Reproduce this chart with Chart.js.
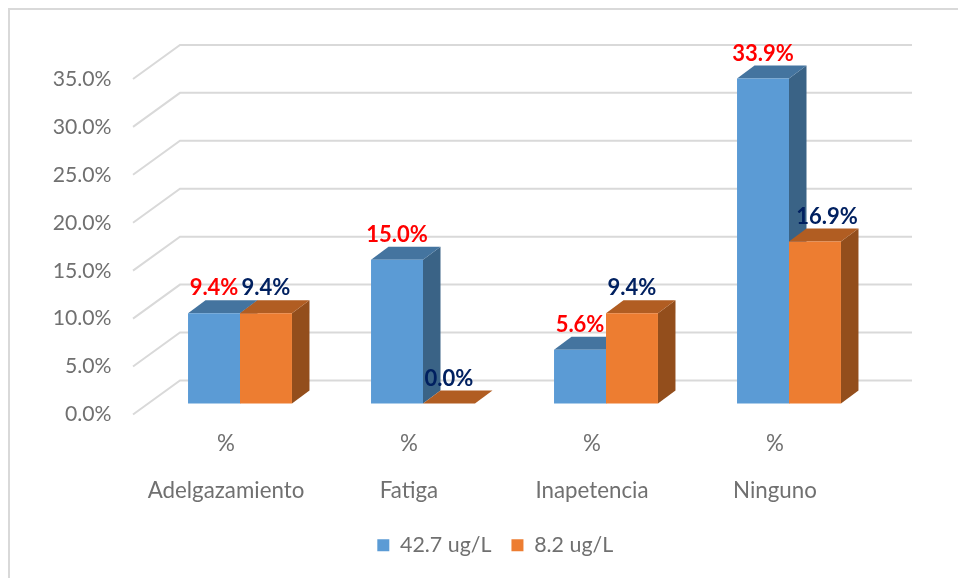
<!DOCTYPE html>
<html>
<head>
<meta charset="utf-8">
<style>
  html, body { margin: 0; padding: 0; background: #fff; }
  canvas { display: block; }
</style>
<script src="https://cdn.jsdelivr.net/npm/chart.js@4"></script>
</head>
<body>
<canvas id="chart" width="958" height="578"></canvas>
<script>
// Chart data
const categories = ['Adelgazamiento', 'Fatiga', 'Inapetencia', 'Ninguno'];
const categoryUnit = '%';
const seriesNames = ['42.7 ug/L', '8.2 ug/L'];
const highValues = [9.4, 15.0, 5.6, 33.9];
const lowValues = [9.4, 0.0, 9.4, 16.9];
const yTicks = [0, 5, 10, 15, 20, 25, 30, 35];

const FONT = 'Lato, sans-serif';
const TEXT_GREY = '#707070';
const GRID_GREY = '#d9d9d9';

// Colours for each series: front, top and side face
const faces = [
  { front: '#5b9bd5', top: '#44749f', side: '#3a6386', label: '#ff0000' },
  { front: '#ed7d31', top: '#b15d22', side: '#934e1c', label: '#002060' }
];

// Depth of the bars and of the floor/back wall
const BAR_DX = 17.5, BAR_DY = 13;
const WALL_DX = 47, WALL_DY = 34;

// Frame and 3D gridlines, drawn under the bars
const wallPlugin = {
  id: 'wall',
  afterLayout(chart) {
    // legend sits off the padded area's centre in the original
    chart.legend.left += 55;
    chart.legend.right += 55;
    chart.legend.top += 2;
    chart.legend.bottom += 2;
  },
  beforeDraw(chart) {
    const { ctx, chartArea, scales } = chart;
    ctx.save();
    ctx.strokeStyle = GRID_GREY;
    ctx.lineWidth = 2;
    ctx.beginPath();
    ctx.moveTo(9, 578);
    ctx.lineTo(9, 9);
    ctx.lineTo(958, 9);
    ctx.stroke();
    yTicks.forEach(v => {
      const y = scales.y.getPixelForValue(v);
      const x = chartArea.left - 15.5;
      ctx.beginPath();
      ctx.moveTo(x, y);
      ctx.lineTo(x + WALL_DX, y - WALL_DY);
      ctx.lineTo(chartArea.right + 31.5, y - WALL_DY);
      ctx.stroke();
    });
    ctx.restore();
  }
};

// Top and side faces, drawn before the library paints the front rectangles
const depthPlugin = {
  id: 'depth',
  beforeDatasetsDraw(chart) {
    const { ctx } = chart;
    const poly = (color, pts) => {
      ctx.fillStyle = color;
      ctx.beginPath();
      pts.forEach((p, i) => i ? ctx.lineTo(p[0], p[1]) : ctx.moveTo(p[0], p[1]));
      ctx.closePath();
      ctx.fill();
    };
    chart.data.datasets.forEach((ds, d) => {
      chart.getDatasetMeta(d).data.forEach(bar => {
        const l = bar.x - bar.width / 2, r = bar.x + bar.width / 2;
        poly(faces[d].side, [[r, bar.y], [r + BAR_DX, bar.y - BAR_DY], [r + BAR_DX, bar.base - BAR_DY], [r, bar.base]]);
        poly(faces[d].top, [[l, bar.y], [l + BAR_DX, bar.y - BAR_DY], [r + BAR_DX, bar.y - BAR_DY], [r, bar.y]]);
      });
    });
  }
};

// Value labels above the bars
const valueLabelPlugin = {
  id: 'valueLabels',
  afterDatasetsDraw(chart) {
    const { ctx } = chart;
    ctx.save();
    ctx.font = 'bold 22px ' + FONT;
    ctx.textAlign = 'center';
    ctx.textBaseline = 'middle';
    chart.data.datasets.forEach((ds, d) => {
      ctx.fillStyle = faces[d].label;
      chart.getDatasetMeta(d).data.forEach((bar, i) => {
        // the 16.9% label sits a little to the right in the original
        const shift = d === 1 && i === 3 ? 12 : 0;
        ctx.fillText(ds.data[i].toFixed(1) + '%', bar.x + shift, bar.y - 25);
      });
    });
    ctx.restore();
  }
};

new Chart(document.getElementById('chart'), {
  type: 'bar',
  data: {
    labels: categories.map(c => [categoryUnit, c]),
    datasets: [
      { label: seriesNames[0], data: highValues, backgroundColor: faces[0].front, yAxisID: 'yBars', categoryPercentage: 0.568, barPercentage: 1 },
      { label: seriesNames[1], data: lowValues, backgroundColor: faces[1].front, yAxisID: 'yBars', categoryPercentage: 0.568, barPercentage: 1 }
    ]
  },
  options: {
    responsive: false,
    animation: false,
    layout: { padding: { top: 31, right: 77.5, bottom: 14, left: 0 } },
    plugins: {
      tooltip: { enabled: false },
      legend: {
        position: 'bottom',
        labels: {
          boxWidth: 12,
          boxHeight: 12,
          padding: 20,
          color: TEXT_GREY,
          font: { family: FONT, size: 21.4 }
        }
      }
    },
    scales: {
      x: {
        grid: { display: false },
        border: { display: false },
        ticks: {
          maxRotation: 0,
          autoSkip: false,
          padding: -2,
          labelOffset: -14,
          color: TEXT_GREY,
          font: { family: FONT, size: 22.3, lineHeight: 2.11 }
        }
      },
      y: {
        min: 0,
        max: 40,
        grid: { display: false },
        border: { display: false },
        afterFit(scale) {
          scale.width = 148.5;
          scale.paddingTop = 0;
          scale.paddingBottom = 0;
        },
        ticks: {
          stepSize: 5,
          padding: 29,
          color: TEXT_GREY,
          font: { family: FONT, size: 21.2 },
          callback: v => (yTicks.includes(v) ? v.toFixed(1) + '%' : '')
        }
      },
      // same span as y, shifted so the bars stand in the middle of the floor
      yBars: {
        display: false,
        min: -1.15,
        max: 38.85
      }
    }
  },
  plugins: [wallPlugin, depthPlugin, valueLabelPlugin]
});
</script>
</body>
</html>
